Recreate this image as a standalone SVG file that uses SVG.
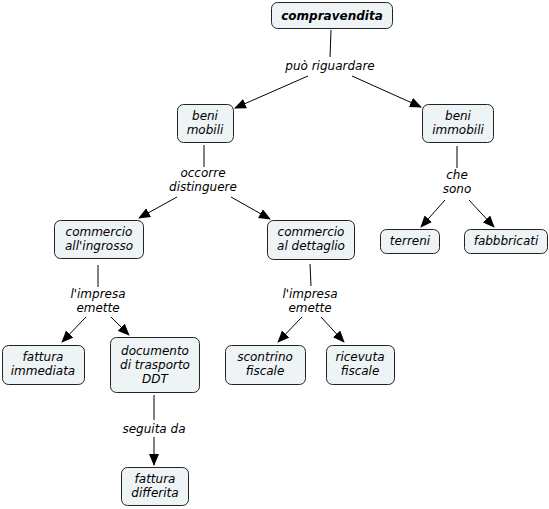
<svg xmlns="http://www.w3.org/2000/svg" width="549" height="509" viewBox="0 0 549 509">
<style>
.n rect{fill:#eef3f5;stroke:#222;stroke-width:1}
text{font-family:"DejaVu Sans",Verdana,sans-serif;font-size:12px;font-style:italic;fill:#000;text-anchor:middle}
.b{font-weight:bold;font-size:12px}
.c line{stroke:#000;stroke-width:1}
.c .a{marker-end:url(#ah)}
</style>
<defs>
<marker id="ah" viewBox="0 0 12 10" refX="11" refY="5" markerWidth="12" markerHeight="10" markerUnits="userSpaceOnUse" orient="auto">
<path d="M0,0 L12,5 L0,10 Z" fill="#000"/>
</marker>
</defs>
<rect width="549" height="509" fill="#fff"/>
<g class="c">
<line x1="331" y1="30" x2="330" y2="57"/>
<line class="a" x1="308" y1="76" x2="235" y2="108"/>
<line class="a" x1="352" y1="76" x2="421" y2="107"/>
<line x1="204" y1="145" x2="204" y2="167"/>
<line class="a" x1="177" y1="197" x2="139" y2="218"/>
<line class="a" x1="231" y1="197" x2="270" y2="219"/>
<line x1="457" y1="146" x2="457" y2="168"/>
<line class="a" x1="445" y1="200" x2="421" y2="227"/>
<line class="a" x1="469" y1="200" x2="494" y2="227"/>
<line x1="98" y1="265" x2="98" y2="287"/>
<line class="a" x1="86" y1="317" x2="62" y2="342"/>
<line class="a" x1="111" y1="317" x2="129" y2="335"/>
<line x1="310" y1="264" x2="311" y2="286"/>
<line class="a" x1="302" y1="317" x2="278" y2="342"/>
<line class="a" x1="321" y1="317" x2="344" y2="342"/>
<line x1="154" y1="395" x2="154" y2="420"/>
<line class="a" x1="154" y1="437" x2="154" y2="465"/>
</g>
<g id="l1"><text x="330" y="70">può riguardare</text></g>
<g id="l2"><text x="203" y="177">occorre</text><text x="203" y="191">distinguere</text></g>
<g id="l3"><text x="457" y="179">che</text><text x="457" y="193">sono</text></g>
<g id="l4"><text x="98" y="298">l'impresa</text><text x="98" y="312">emette</text></g>
<g id="l5"><text x="310" y="298">l'impresa</text><text x="310" y="312">emette</text></g>
<g id="l6"><text x="154" y="433">seguita da</text></g>
<g id="compravendita" class="n"><rect x="271.5" y="2.5" width="121" height="26" rx="6"/><text class="b" x="332" y="20">compravendita</text></g>
<g id="beni-mobili" class="n"><rect x="177.5" y="104.5" width="56" height="38" rx="6"/><text x="205" y="120">beni</text><text x="205" y="134">mobili</text></g>
<g id="beni-immobili" class="n"><rect x="422.5" y="104.5" width="71" height="38" rx="6"/><text x="458" y="120">beni</text><text x="458" y="134">immobili</text></g>
<g id="commercio-ingrosso" class="n"><rect x="54.5" y="220.5" width="89" height="38" rx="6"/><text x="99" y="236">commercio</text><text x="99" y="250">all'ingrosso</text></g>
<g id="commercio-dettaglio" class="n"><rect x="267.5" y="220.5" width="87" height="39" rx="6"/><text x="311" y="236">commercio</text><text x="311" y="250">al dettaglio</text></g>
<g id="terreni" class="n"><rect x="380.5" y="229.5" width="59" height="24" rx="6"/><text x="410" y="245">terreni</text></g>
<g id="fabbbricati" class="n"><rect x="464.5" y="229.5" width="83" height="24" rx="6"/><text x="506" y="245">fabbbricati</text></g>
<g id="fattura-immediata" class="n"><rect x="2.5" y="345.5" width="82" height="39" rx="6"/><text x="43" y="361">fattura</text><text x="43" y="375">immediata</text></g>
<g id="ddt" class="n"><rect x="110.5" y="337.5" width="89" height="55" rx="6"/><text x="155" y="355">documento</text><text x="155" y="369">di trasporto</text><text x="155" y="383">DDT</text></g>
<g id="scontrino" class="n"><rect x="225.5" y="345.5" width="80" height="39" rx="6"/><text x="265" y="361">scontrino</text><text x="265" y="375">fiscale</text></g>
<g id="ricevuta" class="n"><rect x="326.5" y="345.5" width="68" height="39" rx="6"/><text x="360" y="361">ricevuta</text><text x="360" y="375">fiscale</text></g>
<g id="fattura-differita" class="n"><rect x="121.5" y="467.5" width="67" height="38" rx="6"/><text x="155" y="483">fattura</text><text x="155" y="497">differita</text></g>
</svg>
